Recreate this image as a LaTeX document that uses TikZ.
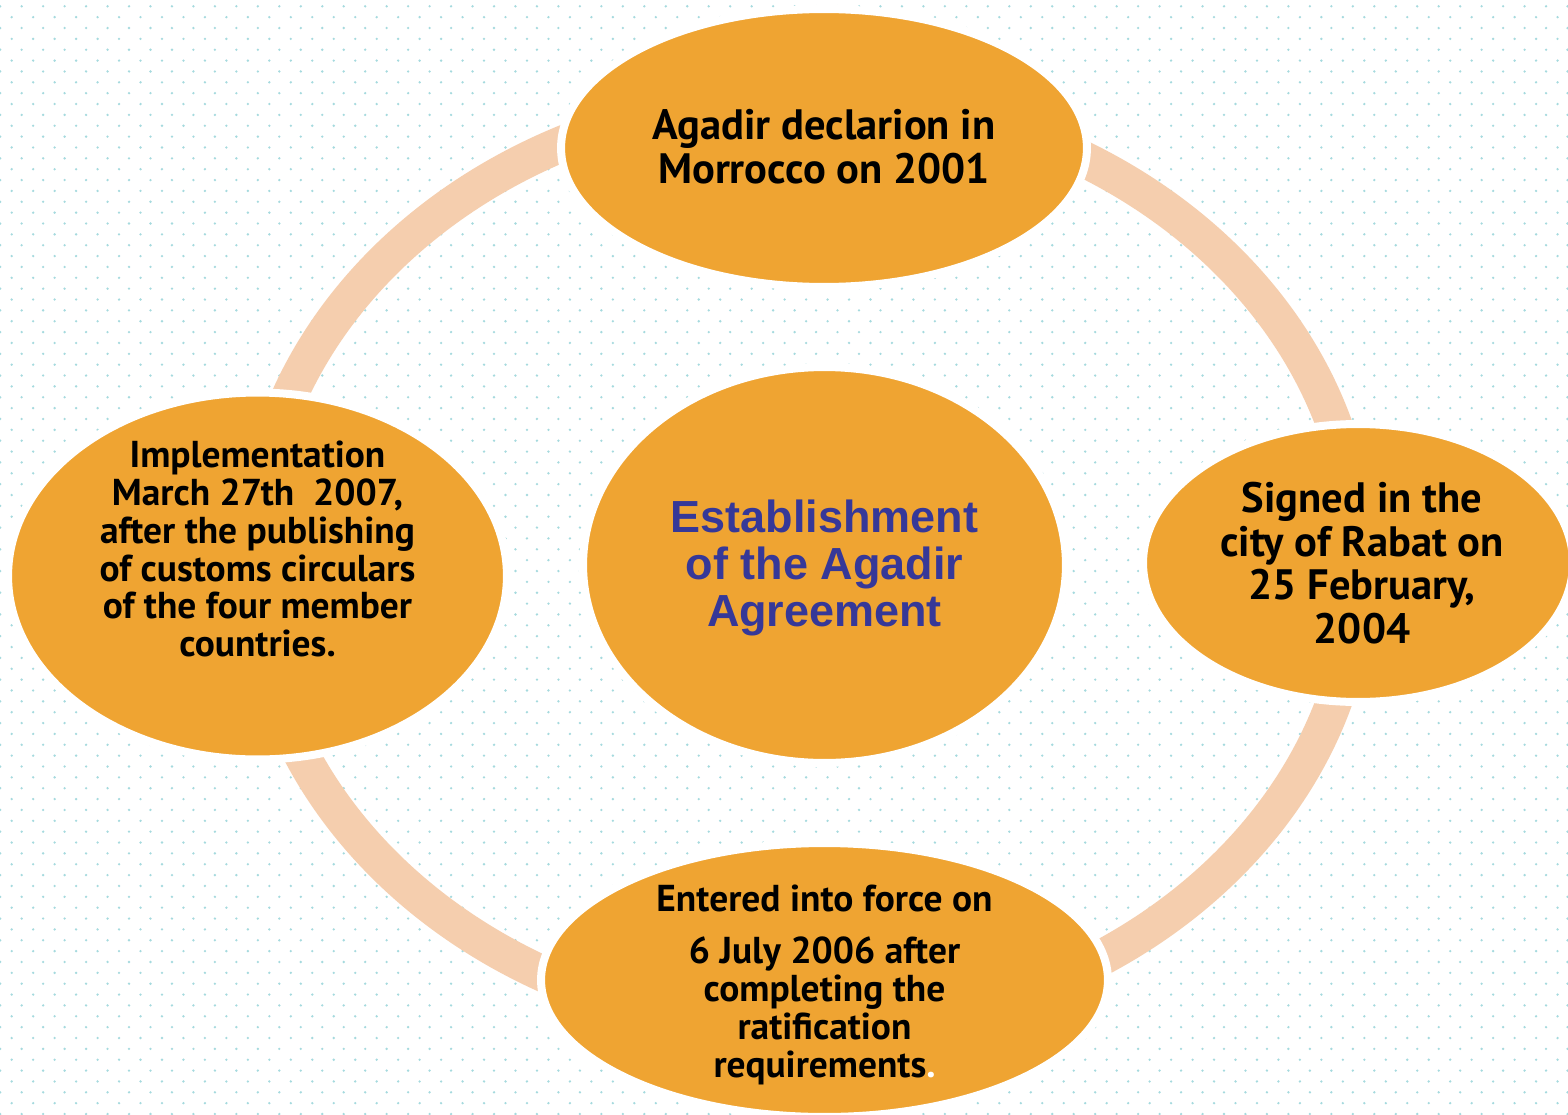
\documentclass[tikz,border=0pt]{standalone}
\usepackage{fontspec}
\setmainfont{PT Sans}
\newfontfamily\hubfont{Liberation Sans}
\usetikzlibrary{shapes.geometric}

\definecolor{bubbleorange}{RGB}{239,164,50}
\definecolor{ringpeach}{RGB}{245,206,174}
\definecolor{hubblue}{RGB}{54,56,152}
\definecolor{dotc}{RGB}{165,218,222}

\tikzset{
	bubble/.style={ellipse, fill=bubbleorange, draw=white, line width=0.16cm, inner sep=0pt},
	ring/.style={draw=ringpeach, line width=0.72cm},
	bigtxt/.style={align=center, inner sep=0pt, font=\bfseries\fontsize{24.2}{24.8}\selectfont},
	smalltxt/.style={align=center, inner sep=0pt, font=\bfseries\fontsize{21.3}{21.6}\selectfont},
	hubtxt/.style={align=center, inner sep=0pt, text=hubblue, font=\hubfont\bfseries\fontsize{25.6}{27}\selectfont}
}

\begin{document}
\begin{tikzpicture}[x=0.02cm, y=-0.02cm]
		% page and dotted paper
		\fill[white] (0,0) rectangle (1568,1115);
		\useasboundingbox (0,0) rectangle (1568,1115);
		\foreach \k in {0,...,102}{
			\pgfmathsetmacro\xo{mod(\k,2)==0 ? 0.2 : 11.7}
			\fill[dotc] \foreach \j in {0,...,73}{ ({\xo+21.47*\j},{6.3+10.86*\k}) circle (0.026cm) };
		}
		% the cycle ring behind the bubbles
		\draw[ring] (806,563) ellipse [x radius=11.06cm, y radius=9.34cm];
		% bubbles
		\node[bubble, minimum width=9.66cm, minimum height=7.92cm] (hub) at (824.5,565) {};
		\node[bubble, minimum width=10.52cm, minimum height=5.56cm] (decl) at (824,148) {};
		\node[bubble, minimum width=8.6cm, minimum height=5.56cm] (rabat) at (1358,563) {};
		\node[bubble, minimum width=11.34cm, minimum height=5.48cm] (force) at (824.5,980) {};
		\node[bubble, minimum width=9.98cm, minimum height=7.34cm] (impl) at (257.5,576) {};
		% texts
		\node[hubtxt] (hub-txt) at ([yshift=-0.06cm]hub) {Establishment\\of the Agadir\\Agreement};
		\node[bigtxt] (decl-txt) at ([yshift=0.03cm]decl) {Agadir declarion in\\Morrocco on 2001};
		\node[bigtxt] (rabat-txt) at ([xshift=0.08cm]rabat) {Signed in the\\city of Rabat on\\25 February,\\2004};
		\node[smalltxt] (force-txt) at ([yshift=-0.1cm]force) {Entered into force on\\[8pt]6 July 2006 after\\completing the\\ratification\\requirements\textcolor{white}{.}};
		\node[smalltxt] (impl-txt) at ([yshift=0.54cm]impl) {Implementation\\March 27th~~2007,\\after the publishing\\of customs circulars\\of the four member\\countries.};
	\end{tikzpicture}
\end{document}
